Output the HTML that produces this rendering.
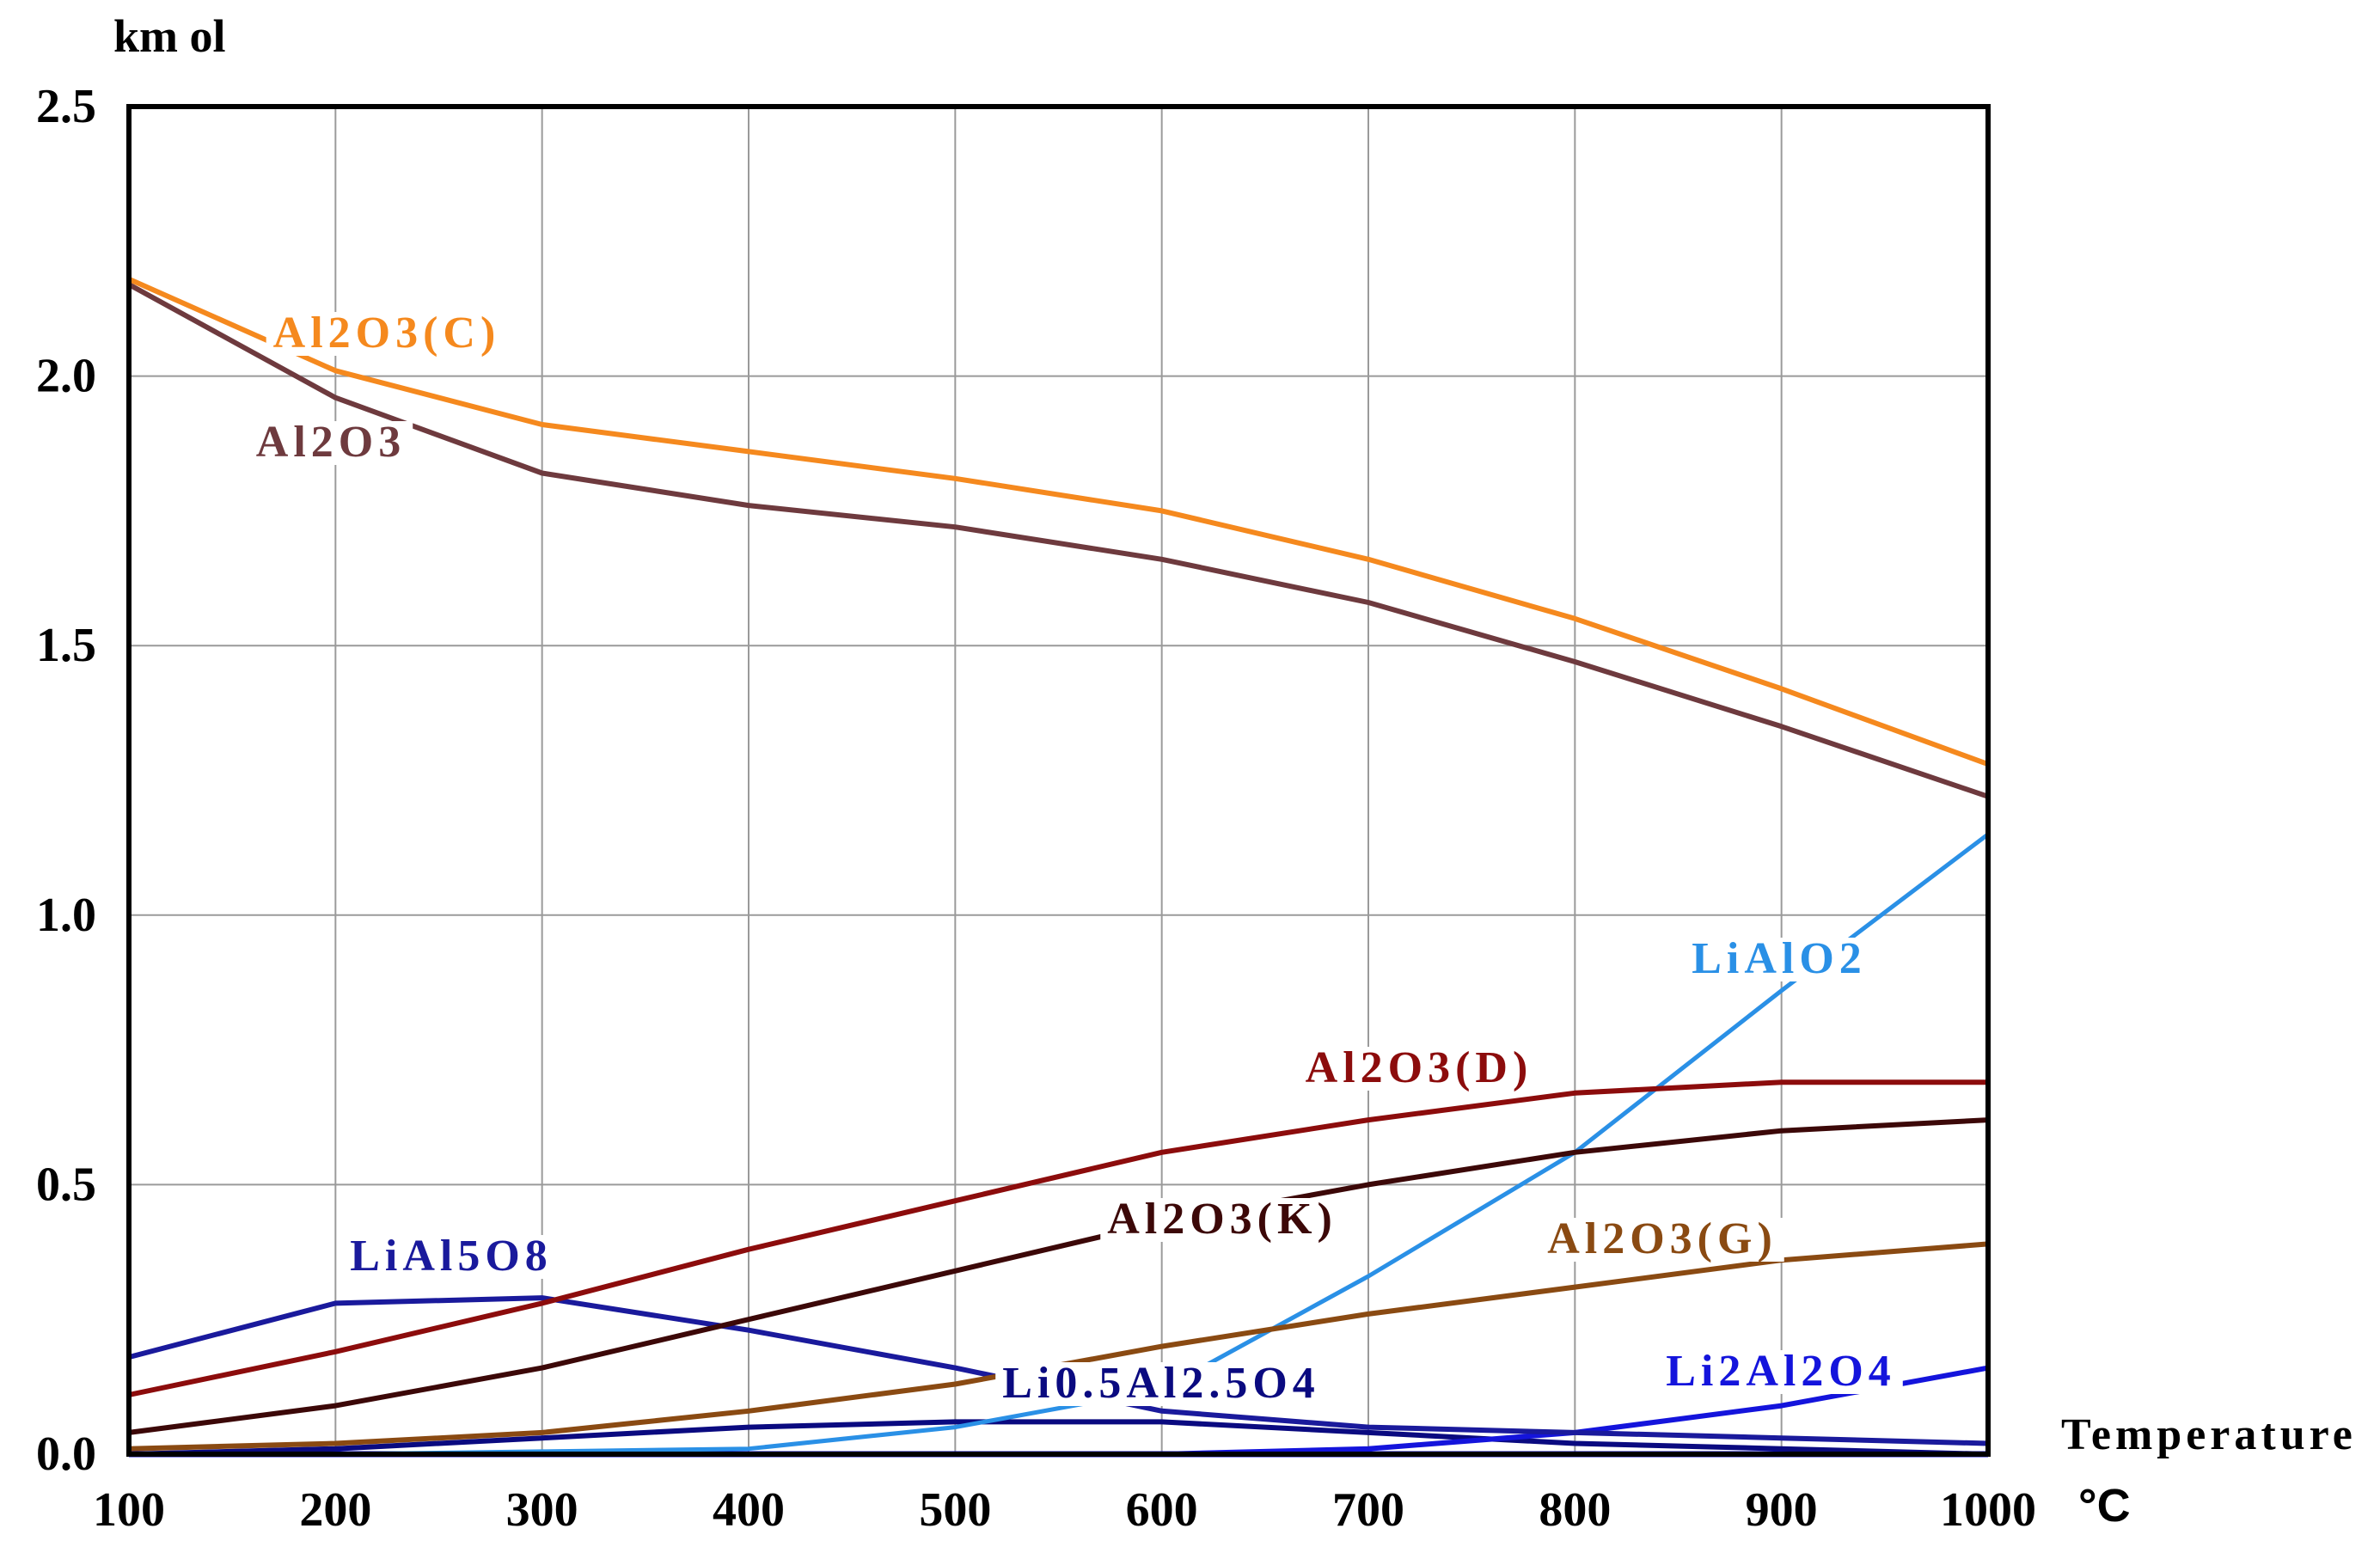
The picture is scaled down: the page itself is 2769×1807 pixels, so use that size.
<!DOCTYPE html>
<html><head><meta charset="utf-8"><style>
html,body{margin:0;padding:0;background:#fff;}
svg{display:block;}
text{font-family:"Liberation Serif",serif;font-weight:bold;}
</style></head><body>
<svg id="chart" width="2769" height="1807" viewBox="0 0 2769 1807" xmlns="http://www.w3.org/2000/svg">
<g id="grid"></g>
<g id="lines"></g>
<g id="labels"></g>
<g id="axes"></g>
</svg>
<script>
const temps = [100,200,300,400,500,600,700,800,900,1000];
const xTicks = [100,200,300,400,500,600,700,800,900,1000];
const yTicks = [0,0.5,1.0,1.5,2.0,2.5];
const yTickLabels = ["0.0","0.5","1.0","1.5","2.0","2.5"];
const al2o3C = [2.18,2.01,1.91,1.86,1.81,1.75,1.66,1.55,1.42,1.28];
const al2o3 = [2.17,1.96,1.82,1.76,1.72,1.66,1.58,1.47,1.35,1.22];
const al2o3D = [0.11,0.19,0.28,0.38,0.47,0.56,0.62,0.67,0.69,0.69];
const al2o3K = [0.04,0.09,0.16,0.25,0.34,0.43,0.50,0.56,0.60,0.62];
const al2o3G = [0.01,0.02,0.04,0.08,0.13,0.20,0.26,0.31,0.36,0.39];
const liAlO2 = [0.0,0.0,0.005,0.01,0.05,0.12,0.33,0.56,0.86,1.15];
const liAl5O8 = [0.18,0.28,0.29,0.23,0.16,0.08,0.05,0.04,0.03,0.02];
const li05 = [0.0,0.01,0.03,0.05,0.06,0.06,0.04,0.02,0.01,0.0];
const li2Al2O4 = [0.0,0.0,0.0,0.0,0.0,0.0,0.01,0.04,0.09,0.16];
const zeroLine = [0,0,0,0,0,0,0,0,0,0];

const X0=150,X1=2313,Y0=1692,Y1=124;
function sx(t){return X0+(t-100)/900*(X1-X0);}
function sy(v){return Y0-v/2.5*(Y0-Y1);}
const NS="http://www.w3.org/2000/svg";
function mk(tag,attrs,parent){const e=document.createElementNS(NS,tag);for(const k in attrs)e.setAttribute(k,attrs[k]);parent.appendChild(e);return e;}

const grid=document.getElementById('grid');
xTicks.forEach(t=>{const l=mk('line',{x1:sx(t),x2:sx(t),y1:Y1,y2:Y0,stroke:'#9a9a9a','stroke-width':2},grid);

});
yTicks.forEach(v=>{const l=mk('line',{x1:X0,x2:X1,y1:sy(v),y2:sy(v),stroke:'#9a9a9a','stroke-width':2},grid);

});

const lines=document.getElementById('lines');
function series(vals,color,name,w){
  const d=vals.map((v,i)=>(i?'L':'M')+sx(temps[i]).toFixed(1)+' '+sy(v).toFixed(1)).join(' ');
  const p=mk('path',{d:d,fill:'none',stroke:color,'stroke-width':w||6,'stroke-linejoin':'round'},lines);
  
  
}
series(zeroLine,'#1010e0','zero-line',7);
series(li05,'#0a0a80','line-li0.5al2.5o4');
series(li2Al2O4,'#1414dc','line-li2al2o4');
series(liAl5O8,'#1a1a9c','line-lial5o8');
series(liAlO2,'#2a90e6','line-lialo2',5);
series(al2o3G,'#8a4a12','line-al2o3-g');
series(al2o3K,'#3c0808','line-al2o3-k');
series(al2o3D,'#8c0c0c','line-al2o3-d');
series(al2o3,'#6e3a3e','line-al2o3');
series(al2o3C,'#f5891e','line-al2o3-c');

const labels=document.getElementById('labels');
function label(txt,x,y,color,name){
  const t=mk('text',{x:x,y:y,fill:color,'font-size':52,'letter-spacing':6,'text-anchor':'middle'},labels);
  t.textContent=txt;
  
  
  const b=t.getBBox();
  const r=document.createElementNS(NS,'rect');
  r.setAttribute('x',b.x-8);r.setAttribute('y',b.y+4);r.setAttribute('width',b.width+16);r.setAttribute('height',b.height-6);r.setAttribute('fill','#fff');
  
  
  labels.insertBefore(r,t);
}
label('Al2O3(C)',450,404,'#f5891e','label-al2o3-c');
label('Al2O3',385,531,'#6e3a3e','label-al2o3');
label('LiAlO2',2070,1132,'#2a90e6','label-lialo2');
label('Al2O3(D)',1651,1259,'#8c0c0c','label-al2o3-d');
label('Al2O3(K)',1422,1435,'#3c0808','label-al2o3-k');
label('Al2O3(G)',1934,1458,'#8a4a12','label-al2o3-g');
label('LiAl5O8',525,1478,'#1a1a9c','label-lial5o8');
label('Li0.5Al2.5O4',1351,1626,'#0a0a80','label-li0.5al2.5o4');
label('Li2Al2O4',2072,1612,'#1414dc','label-li2al2o4');

const axes=document.getElementById('axes');
const frame=mk('rect',{x:X0,y:Y1,width:X1-X0,height:Y0-Y1,fill:'none',stroke:'#000','stroke-width':6},axes);


xTicks.forEach(t=>{const e=mk('text',{x:sx(t),y:1775,'font-size':56,'text-anchor':'middle',fill:'#000'},axes);e.textContent=String(t);

});
yTicks.forEach((v,i)=>{const e=mk('text',{x:112,y:sy(v)+18,'font-size':56,'text-anchor':'end',fill:'#000'},axes);e.textContent=yTickLabels[i];

});
const yt=mk('text',{x:132,y:60,'font-size':54,fill:'#000'},axes);yt.textContent='km ol';


const xt=mk('text',{x:2398,y:1686,'font-size':52,'letter-spacing':5,fill:'#000'},axes);xt.textContent='Temperature';


const xu=mk('text',{x:2418,y:1770,'font-size':54,fill:'#000',style:'font-family:"Liberation Sans",sans-serif'},axes);xu.textContent='°C';


</script>
</body></html>
